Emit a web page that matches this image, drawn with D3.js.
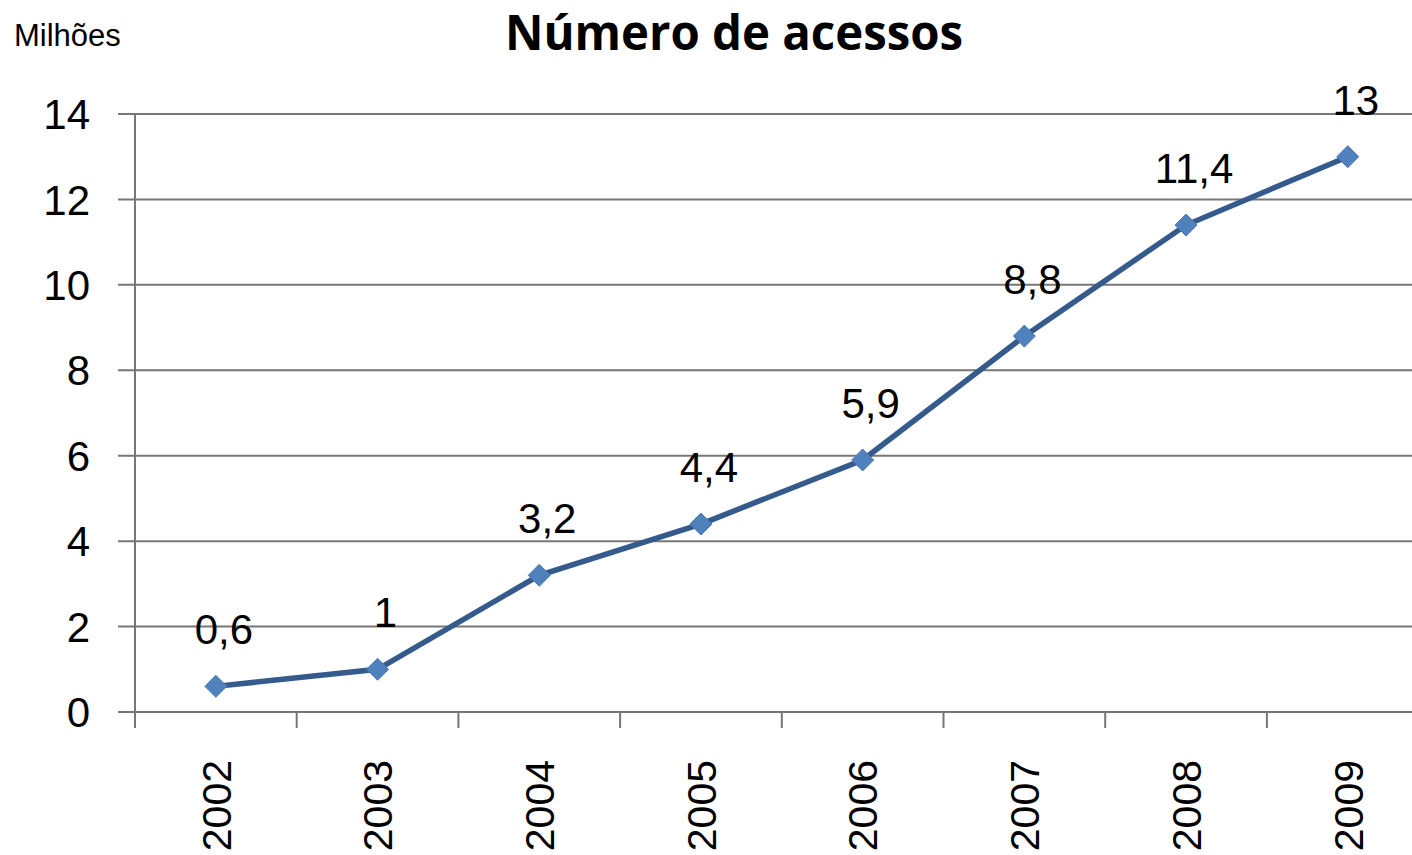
<!DOCTYPE html>
<html>
<head>
<meta charset="utf-8">
<script src="https://cdn.jsdelivr.net/npm/d3@7"></script>
<style>
  body { margin: 0; background: #fff; }
  .grid line { stroke: #777; stroke-width: 2px; }
  .lbl { font-family: "Liberation Sans", Arial, sans-serif; fill: #000; }
</style>
</head>
<body>
<svg id="chart" width="1412" height="855"></svg>
<script>
var years = ["2002", "2003", "2004", "2005", "2006", "2007", "2008", "2009"];
var acessos = [0.6, 1, 3.2, 4.4, 5.9, 8.8, 11.4, 13];
var valueLabels = ["0,6", "1", "3,2", "4,4", "5,9", "8,8", "11,4", "13"];
var yTicks = [0, 2, 4, 6, 8, 10, 12, 14];

var svg = d3.select("#chart");

var x = d3.scaleBand().domain(years).range([135, 1428.6]);
var y = d3.scaleLinear().domain([0, 14]).range([712, 114]);

var data = years.map((yr, i) => ({ year: yr, v: acessos[i], label: valueLabels[i] }));

// grid lines
svg.append("g").attr("class", "grid")
  .selectAll("line")
  .data(yTicks)
  .enter().append("line")
  .attr("x1", 118).attr("x2", 1428)
  .attr("y1", d => y(d)).attr("y2", d => y(d));

// y axis line
svg.append("line")
  .attr("x1", 135).attr("x2", 135)
  .attr("y1", y(14)).attr("y2", 728)
  .style("stroke", "#777").style("stroke-width", 2);

// x tick marks at band boundaries
svg.append("g")
  .selectAll("line")
  .data(years.slice(1))
  .enter().append("line")
  .attr("x1", d => x(d)).attr("x2", d => x(d))
  .attr("y1", y(0)).attr("y2", 728)
  .style("stroke", "#777").style("stroke-width", 2);

// y tick labels
svg.append("g")
  .selectAll("text")
  .data(yTicks)
  .enter().append("text")
  .attr("class", "lbl")
  .attr("x", 90)
  .attr("y", d => y(d))
  .attr("dy", "0.36em")
  .attr("text-anchor", "end")
  .style("font-size", "42px")
  .text(d => d);

// x labels rotated
svg.append("g")
  .selectAll("text")
  .data(years)
  .enter().append("text")
  .attr("class", "lbl")
  .attr("transform", d => "translate(" + (x(d) + x.bandwidth() / 2) + ",760) rotate(-90)")
  .attr("dy", "0.36em")
  .attr("text-anchor", "end")
  .style("font-size", "41px")
  .text(d => d);

// line
var line = d3.line()
  .x(d => x(d.year) + x.bandwidth() / 2)
  .y(d => y(d.v));

svg.append("path")
  .datum(data)
  .attr("d", line)
  .style("fill", "none")
  .style("stroke", "#355b8c")
  .style("stroke-width", 5.5);

// diamond markers
svg.append("g")
  .selectAll("path")
  .data(data)
  .enter().append("path")
  .attr("transform", d => "translate(" + (x(d.year) + x.bandwidth() / 2) + "," + y(d.v) + ")")
  .attr("d", "M0,-11L11,0L0,11L-11,0Z")
  .style("fill", "#4f81bd")
  .style("stroke", "#4a7ab3")
  .style("stroke-width", 1);

// data labels
svg.append("g")
  .selectAll("text")
  .data(data)
  .enter().append("text")
  .attr("class", "lbl")
  .attr("x", d => x(d.year) + x.bandwidth() / 2 + 8)
  .attr("y", d => y(d.v) - 42)
  .attr("text-anchor", "middle")
  .style("font-size", "42px")
  .text(d => d.label);

// title
svg.append("text")
  .attr("x", 734)
  .attr("y", 50)
  .attr("text-anchor", "middle")
  .attr("textLength", 458)
  .attr("lengthAdjust", "spacingAndGlyphs")
  .style("font-family", "'Open Sans', sans-serif")
  .style("font-weight", "bold")
  .style("font-size", "48px")
  .text("Número de acessos");

// unit label
svg.append("text")
  .attr("class", "lbl")
  .attr("x", 14)
  .attr("y", 46)
  .style("font-size", "31px")
  .text("Milhões");
</script>
</body>
</html>
